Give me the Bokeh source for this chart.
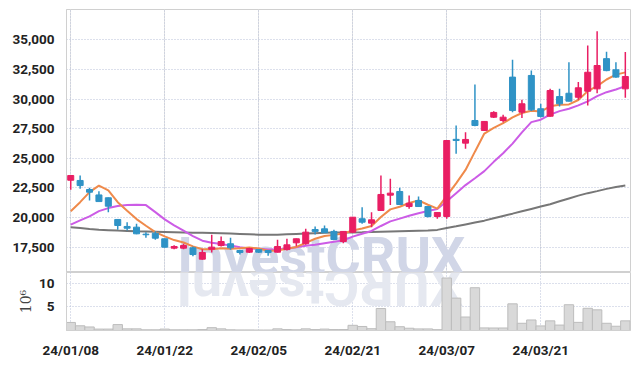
from bokeh.plotting import figure
from bokeh.models import FixedTicker, NumeralTickFormatter, Grid, ColumnDataSource, Range1d
from bokeh.layouts import column
from bokeh.embed import file_html
from bokeh.resources import INLINE
from bokeh.core.properties import value

# ---------------- data ----------------
tick_pos = [0, 10, 20, 30, 40, 50]
tick_labels = ["24/01/08", "24/01/22", "24/02/05", "24/02/21", "24/03/07", "24/03/21"]

opens = [23150, 23130, 22370, 21910, 21670, 19840, 19250, 19190, 18600, 18680,
         18210, 17420, 17420, 17450, 16490, 17330, 17640, 17790, 17220, 17080,
         17300, 17220, 17080, 17300, 17870, 17790, 18990, 19050, 18830, 17980,
         18770, 19900, 19530, 20600, 21890, 22200, 20930, 21440, 20930, 20090,
         20090, 26600, 26280, 28190, 27350, 28470, 28190, 31850, 28890, 31990,
         29180, 28550, 30210, 30490, 30150, 30660, 30860, 33410, 32470, 30860]
highs = [23600, 23550, 22510, 22220, 21700, 19840, 19610, 19470, 18770, 18850,
         18210, 17670, 17790, 17560, 17330, 18550, 18400, 18290, 17280, 17450,
         17350, 17250, 18120, 18210, 18230, 19050, 19250, 19330, 18970, 18850,
         20050, 20880, 20450, 23550, 23270, 22510, 21860, 21780, 20950, 20450,
         26550, 27770, 27200, 31230, 28150, 28980, 28670, 33310, 29940, 32410,
         29600, 30860, 30860, 33110, 31430, 34520, 35720, 33980, 33110, 33960]
lows = [22350, 22430, 21440, 21440, 20450, 18970, 18910, 18600, 18290, 18120,
        17480, 17330, 17330, 16740, 16450, 17050, 17560, 17280, 16880, 17000,
        17000, 16770, 17050, 17220, 17590, 17700, 18570, 18700, 18100, 17840,
        18700, 19470, 19190, 20550, 21050, 21050, 20740, 20900, 20000, 19900,
        19900, 25380, 25800, 27700, 27300, 28400, 28050, 28890, 28410, 29000,
        28450, 28500, 29370, 29800, 29940, 29460, 30490, 32350, 31800, 30100]
closes = [23550, 22700, 22140, 21350, 20960, 19330, 19100, 18630, 18550, 18260,
          17500, 17560, 17640, 16880, 17050, 17500, 17980, 17450, 17050, 17390,
          17080, 17050, 17560, 17700, 18210, 18770, 18830, 18720, 18150, 18830,
          20030, 19610, 19810, 21950, 22060, 21100, 21210, 20930, 20090, 20430,
          26500, 26500, 26590, 27770, 28110, 28870, 28470, 29030, 29600, 29090,
          28530, 30720, 29600, 29820, 30950, 32260, 32830, 32400, 31850, 31900]
ma_short = [20540, 21300, 22150, 22700, 22300, 21300, 20580, 19870, 19310, 18770,
            18410, 18100, 17900, 17570, 17330, 17330, 17410, 17370, 17410, 17470,
            17390, 17200, 17230, 17360, 17520, 17860, 18210, 18450, 18540, 18660,
            18910, 19070, 19290, 20050, 20690, 20910, 21230, 21450, 21080, 20750,
            21830, 22890, 24020, 25560, 27090, 27570, 27960, 28450, 28820, 29010,
            28940, 29390, 29510, 29550, 29920, 30670, 31090, 31650, 32060, 32250]
ma_mid = [19400, 19760, 20100, 20540, 20800, 20980, 21050, 21090, 21050, 20460,
          19850, 19340, 18890, 18440, 18050, 17870, 17760, 17640, 17490, 17400,
          17360, 17310, 17300, 17380, 17500, 17620, 17710, 17840, 17950, 18090,
          18390, 18640, 18870, 19290, 19680, 19910, 20150, 20370, 20560, 20720,
          21370, 22060, 22740, 23320, 23920, 24700, 25430, 26240, 27190, 28050,
          28260, 28680, 28980, 29180, 29470, 29810, 30240, 30580, 30810, 31090]
ma_long = [19190, 19110, 19030, 18980, 18940, 18900, 18870, 18840, 18820, 18800,
           18780, 18760, 18740, 18720, 18710, 18700, 18680, 18650, 18620, 18590,
           18560, 18550, 18560, 18590, 18620, 18650, 18680, 18710, 18730, 18740,
           18750, 18760, 18780, 18800, 18820, 18840, 18860, 18880, 18900, 18960,
           19120, 19260, 19420, 19580, 19740, 19940, 20140, 20330, 20530, 20730,
           20930, 21130, 21370, 21610, 21850, 22060, 22230, 22420, 22570, 22700]
volumes = [1.7, 1.0, 0.75, 0.3, 0.3, 1.25, 0.35, 0.35, 0.15, 0.15,
           0.3, 0.15, 0.15, 0.15, 0.2, 0.6, 0.35, 0.15, 0.12, 0.12,
           0.1, 0.1, 0.35, 0.2, 0.15, 0.35, 0.2, 0.3, 0.2, 0.2,
           1.1, 0.85, 0.38, 4.65, 1.85, 0.8, 0.48, 0.34, 0.34, 0.18,
           11.1, 6.85, 2.85, 9.05, 0.55, 0.53, 0.53, 5.64, 1.53, 2.23,
           0.97, 2.04, 1.15, 5.45, 1.72, 4.7, 4.37, 1.53, 0.9, 2.04]
price_ticks = [17500, 20000, 22500, 25000, 27500, 30000, 32500, 35000]
volume_ticks = [5, 10]
watermark = "InvestCRUX"

# ---------------- styles ----------------
RED = "#e91e63"
BLUE = "#2f93c6"
GRID = "#b9c1d8"
FRAME = "#d0d0d0"
LABEL_FONT = "Roboto"
WM_FONT = "Roboto"
WM_SHIFT_PX = 16   # baseline offset of the text glyph, in pixels

n = len(closes)
xs = list(range(n))
colors = [RED if c >= o else BLUE for o, c in zip(opens, closes)]
src = ColumnDataSource(dict(
    x=xs, o=opens, h=highs, l=lows, c=closes,
    top=[max(o, c) for o, c in zip(opens, closes)],
    bottom=[min(o, c) for o, c in zip(opens, closes)],
    color=colors, vol=volumes, ma5=ma_short, ma10=ma_mid, mal=ma_long))

xr = Range1d(-0.45, 59.55)
price_lo, price_hi = 15365, 37555
vol_hi = 12.27

# ---------------- price pane ----------------
p = figure(width=634, height=272, x_range=xr, y_range=Range1d(price_lo, price_hi),
           output_backend="svg", toolbar_location=None, x_axis_location=None,
           min_border_left=66, min_border_right=4, min_border_top=9, min_border_bottom=0)
p.outline_line_color = FRAME
p.ygrid.ticker = FixedTicker(ticks=price_ticks)
p.ygrid.grid_line_color = GRID
p.ygrid.grid_line_dash = "1 2"
p.add_layout(Grid(dimension=0, ticker=FixedTicker(ticks=tick_pos),
                  grid_line_color=GRID, grid_line_dash="1 2"))
p.yaxis.ticker = FixedTicker(ticks=price_ticks)
p.yaxis.formatter = NumeralTickFormatter(format="0,0")
p.yaxis.axis_line_color = FRAME
p.yaxis.major_tick_line_color = None
p.yaxis.minor_tick_line_color = None
p.yaxis.major_label_standoff = 6
p.yaxis.major_label_text_font = LABEL_FONT
p.yaxis.major_label_text_font_style = "bold"
p.yaxis.major_label_text_font_size = "13.5px"
p.yaxis.major_label_text_color = "#222222"

# watermark (frame is 263 px tall)
price_per_px = (price_hi - price_lo) / 263.0
p.text(x=[11.33], y=[price_lo + WM_SHIFT_PX * price_per_px], text=[watermark],
       text_font=value(WM_FONT), text_font_style="bold", text_font_size="54px",
       text_color="#d1d6e7", text_align="left", text_baseline="alphabetic")

p.line("x", "mal", source=src, line_color="#777777", line_width=2)
p.line("x", "ma10", source=src, line_color="#cc5ce6", line_width=2)
p.line("x", "ma5", source=src, line_color="#ef8a4b", line_width=2)
p.segment(x0="x", y0="h", x1="x", y1="l", source=src, line_color="color", line_width=1.5)
p.vbar(x="x", top="top", bottom="bottom", width=0.64, source=src,
       fill_color="color", line_color="color", line_width=1)

# ---------------- volume pane ----------------
v = figure(width=634, height=88, x_range=xr, y_range=Range1d(0, vol_hi),
           output_backend="svg", toolbar_location=None,
           min_border_left=66, min_border_right=4, min_border_top=0, min_border_bottom=23)
v.outline_line_color = FRAME

# reflection of the watermark, char by char (frame is 65 px tall)
adv = {"I": 0.28, "n": 0.55, "v": 0.50, "e": 0.53, "s": 0.52, "t": 0.33,
       "C": 0.66, "R": 0.64, "U": 0.66, "X": 0.63}
em = 54 / 9.4
cum = 0.0
rx = []
for ch in watermark:
    cum += adv[ch]
    rx.append(11.33 + cum * em)
vol_per_px = vol_hi / 65.0
v.text(x=rx, y=[vol_hi - WM_SHIFT_PX * vol_per_px] * len(rx), text=list(watermark),
       angle=3.14159265, text_font=value(WM_FONT), text_font_style="bold",
       text_font_size="54px", text_color="#e5e8f0", text_align="left",
       text_baseline="alphabetic")

v.ygrid.ticker = FixedTicker(ticks=volume_ticks)
v.ygrid.grid_line_color = GRID
v.ygrid.grid_line_dash = "1 2"
v.xgrid.ticker = FixedTicker(ticks=tick_pos)
v.xgrid.grid_line_color = GRID
v.xgrid.grid_line_dash = "1 2"
v.vbar(x="x", top="vol", width=1.0, source=src, fill_color="#d9d9d9",
       line_color="#bdbdbd", line_width=1)

v.yaxis.ticker = FixedTicker(ticks=volume_ticks)
v.yaxis.axis_label = "10\u2076"
v.yaxis.axis_label_text_font = "DejaVu Serif"
v.yaxis.axis_label_text_font_style = "normal"
v.yaxis.axis_label_text_font_size = "14px"
v.yaxis.axis_label_text_color = "#444444"
v.yaxis.axis_label_standoff = 2
v.xaxis.ticker = FixedTicker(ticks=tick_pos)
v.xaxis.major_label_overrides = {t: l for t, l in zip(tick_pos, tick_labels)}
for ax in (v.xaxis, v.yaxis):
    ax.axis_line_color = FRAME
    ax.major_tick_line_color = None
    ax.minor_tick_line_color = None
    ax.major_label_text_font = LABEL_FONT
    ax.major_label_text_font_style = "bold"
    ax.major_label_text_font_size = "13.5px"
    ax.major_label_text_color = "#222222"
v.yaxis.major_label_standoff = 6
v.xaxis.major_label_standoff = 5

layout = column(p, v, spacing=0)
open("out.html", "w").write(file_html(layout, INLINE))
